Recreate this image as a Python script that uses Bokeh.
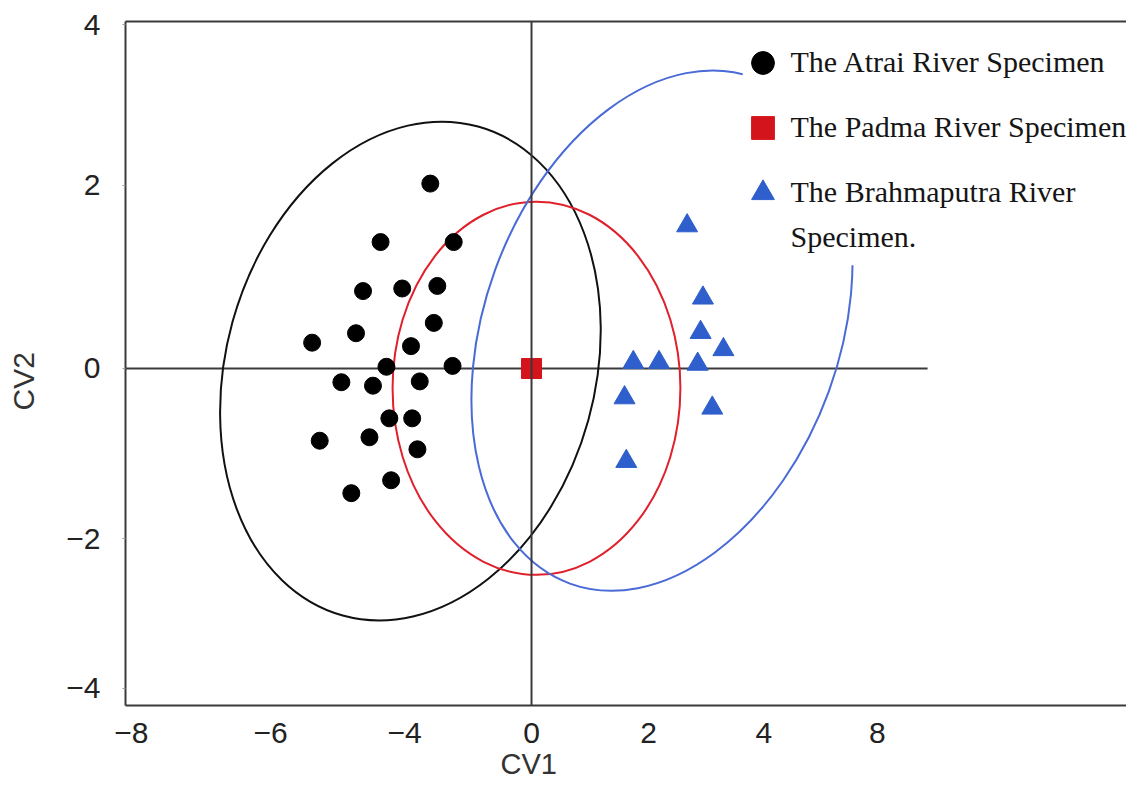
import numpy as np
from bokeh.plotting import figure
from bokeh.models import (Range1d, FixedTicker, Span, Label, Legend, LegendItem,
                          LinearAxis, BoxAnnotation, Title)
from bokeh.embed import file_html
from bokeh.resources import INLINE

# ---------------- data ----------------
atrai_cv1 = [-1.73, -2.58, -1.33, -2.88, -2.21, -1.61, -1.67, -3.00, -3.75, -2.06, -2.48,
             -1.35, -3.25, -2.71, -1.91, -2.43, -2.04, -3.62, -2.77, -1.95, -2.40, -3.08]
atrai_cv2 = [2.15, 1.47, 1.47, 0.90, 0.93, 0.96, 0.53, 0.41, 0.30, 0.26, 0.02,
             0.03, -0.16, -0.20, -0.15, -0.58, -0.58, -0.84, -0.80, -0.94, -1.30, -1.45]

padma_cv1 = [0.0]
padma_cv2 = [0.0]

brahma_cv1 = [2.66, 2.93, 2.89, 3.28, 1.74, 2.18, 2.84, 1.59, 3.09, 1.62]
brahma_cv2 = [1.66, 0.82, 0.42, 0.22, 0.07, 0.07, 0.05, -0.34, -0.46, -1.08]

# group ellipses: centre, width, height, angle (rad)
ell_x = [-2.07, 0.085, 2.23]
ell_y = [-0.03, -0.23, 0.44]
ell_w = [6.31, 4.92, 6.07]
ell_h = [5.90, 4.34, 6.26]
ell_angle = [-0.27, 0.0, -0.349]
ell_color = ["#111111", "#e0202c", "#4a6ad6"]

series_labels = ["The Atrai River Specimen", "The Padma River Specimen",
                 "The Brahmaputra River"]
series_label_cont = "Specimen."

xtick_pos = [-6.84, -4.46, -2.17, 0, 2, 3.97, 5.91]
xtick_labels = ["\u22128", "\u22126", "\u22124", "0", "2", "4", "8"]
ytick_pos = [4.0, 2.13, 0, -1.98, -3.72]
ytick_labels = ["4", "2", "0", "\u22122", "\u22124"]

x_lo, x_hi = -6.94, 10.17
y_lo, y_hi = -3.919, 4.035
hline_end = 6.77

# ---------------- figure ----------------
p = figure(width=1126, height=791, x_range=Range1d(x_lo, x_hi), y_range=Range1d(y_lo, y_hi),
           output_backend="svg", toolbar_location=None,
           min_border_left=125, min_border_top=21, min_border_bottom=86, min_border_right=0)
p.outline_line_color = None
p.grid.visible = False
p.background_fill_color = "white"

axis_col = "#3a3a3a"
for ax in (p.xaxis[0], p.yaxis[0]):
    ax.axis_line_color = axis_col
    ax.axis_line_width = 2
    ax.major_tick_in = 0
    ax.major_tick_line_color = "#999999"
    ax.minor_tick_line_color = None
    ax.major_label_text_font = "Liberation Sans"
    ax.major_label_text_font_size = "30px"
    ax.major_label_text_color = "#222222"

p.xaxis.ticker = FixedTicker(ticks=xtick_pos)
p.xaxis.major_label_overrides = dict(zip(xtick_pos, xtick_labels))
p.xaxis.major_tick_out = 0
p.xaxis.major_label_standoff = 17
p.yaxis.ticker = FixedTicker(ticks=ytick_pos)
p.yaxis.major_label_overrides = dict(zip(ytick_pos, ytick_labels))
p.yaxis.major_tick_out = 3
p.yaxis.major_label_standoff = 22
# invisible spacer so the CV2 title sits further out, as in the source
p.yaxis.axis_label = " "
p.yaxis.axis_label_standoff = 20
p.yaxis.axis_label_text_font_size = "1px"
p.yaxis.axis_label_text_alpha = 0

top_axis = LinearAxis(ticker=FixedTicker(ticks=[]), axis_line_color=axis_col, axis_line_width=2,
                      major_tick_line_color=None, minor_tick_line_color=None,
                      major_label_text_font_size="0px")
p.add_layout(top_axis, "above")

# axis titles (placed as side titles so they can sit where the source has them)
p.add_layout(Title(text="CV1", align="left", offset=375, standoff=0,
                   text_font="Liberation Sans", text_font_size="29px",
                   text_font_style="normal", text_color="#333333"), "below")
p.add_layout(Title(text="CV2", align="left", offset=295, standoff=0,
                   text_font="Liberation Sans", text_font_size="30px",
                   text_font_style="normal", text_color="#333333"), "left")

# zero reference lines
p.add_layout(Span(location=0, dimension="height", line_color=axis_col, line_width=2))
p.segment(x0=[x_lo], y0=[0], x1=[hline_end], y1=[0], line_color=axis_col, line_width=2)

# ellipses
p.ellipse(x=ell_x, y=ell_y, width=ell_w, height=ell_h, angle=ell_angle,
          fill_color=None, line_color=ell_color, line_width=2)

# points
r_a = p.scatter(atrai_cv1, atrai_cv2, marker="circle", size=17, color="black")
r_p = p.scatter(padma_cv1, padma_cv2, marker="square", size=20, color="#d4141c")
r_b = p.scatter(brahma_cv1, brahma_cv2, marker="triangle", size=21, color="#2f5fcc")

# white area behind the legend (hides part of the blue ellipse, as in the source)
p.add_layout(BoxAnnotation(left=3.61, right=11.0, bottom=1.20, top=3.9,
                           fill_color="white", fill_alpha=1.0, line_color=None))

legend = Legend(items=[LegendItem(label=series_labels[0], renderers=[r_a]),
                       LegendItem(label=series_labels[1], renderers=[r_p]),
                       LegendItem(label=series_labels[2], renderers=[r_b])],
                location=(608.5, 480.5))
legend.glyph_width = 57
legend.glyph_height = 65
legend.spacing = 0
legend.padding = 0
legend.margin = 0
legend.label_standoff = 0
legend.label_text_font = "Liberation Serif"
legend.label_text_font_size = "30px"
legend.label_text_color = "#151515"
legend.background_fill_alpha = 0
legend.border_line_color = None
p.add_layout(legend)

# second line of the third legend entry
p.add_layout(Label(x=665, y=469, x_units="screen", y_units="screen", text=series_label_cont,
                   text_align="left", text_baseline="middle",
                   text_font="Liberation Serif", text_font_size="30px", text_color="#151515"))

open("out.html", "w").write(file_html(p, INLINE))
